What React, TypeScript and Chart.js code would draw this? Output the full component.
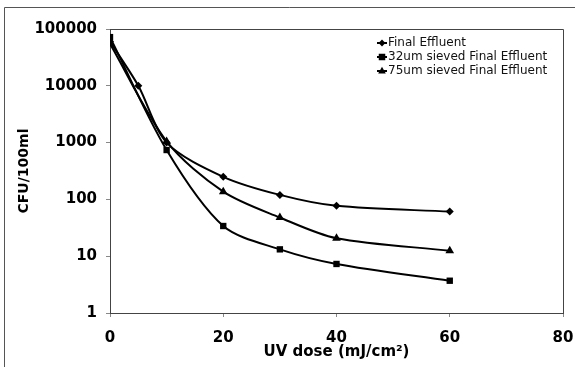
import React, { useEffect, useRef } from "react";
import { Chart, registerables } from "chart.js";

Chart.register(...registerables);

const seriesLabels = ["Final Effluent", "32um sieved Final Effluent", "75um sieved Final Effluent"];
const finalDose = [0, 5, 10, 20, 30, 40, 60];
const finalCFU = [60000, 10000, 1000, 250, 120, 77, 61];
const sieved32Dose = [0, 10, 20, 30, 40, 60];
const sieved32CFU = [72000, 740, 34, 13.2, 7.3, 3.7];
const sieved75Dose = [0, 10, 20, 30, 40, 60];
const sieved75CFU = [55000, 1050, 137, 48, 20.7, 12.5];
const yTicks = [1, 10, 100, 1000, 10000, 100000];
const xTitle = "UV dose (mJ/cm²)";
const yTitle = "CFU/100ml";

const markers = ["rectRot", "rect", "triangle"] as const;
const markerRadius = [4, 4.5, 5];

const FONT = "'DejaVu Sans', Verdana, sans-serif";

const framePlugin = {
  id: "frames",
  afterDraw(chart: any) {
    const { ctx, chartArea } = chart;
    ctx.save();
    ctx.strokeStyle = "#444";
    ctx.lineWidth = 1;
    ctx.beginPath();
    ctx.moveTo(chartArea.left, chartArea.top + 0.5);
    ctx.lineTo(chartArea.right + 0.5, chartArea.top + 0.5);
    ctx.lineTo(chartArea.right + 0.5, chartArea.bottom);
    ctx.stroke();
    ctx.strokeStyle = "#555";
    ctx.beginPath();
    ctx.moveTo(4.5, chart.height);
    ctx.lineTo(4.5, 7.5);
    ctx.lineTo(chart.width, 7.5);
    ctx.stroke();
    ctx.font = "12px " + FONT;
    ctx.textBaseline = "middle";
    const x0 = 377;
    const rows = [43, 57, 71];
    chart.data.datasets.forEach((ds: any, i: number) => {
      const y = rows[i];
      ctx.strokeStyle = "#000";
      ctx.lineWidth = 2;
      ctx.beginPath();
      ctx.moveTo(x0, y);
      ctx.lineTo(x0 + 10, y);
      ctx.stroke();
      ctx.fillStyle = "#000";
      drawMarker(ctx, ds.pointStyle, ds.pointRadius * 0.85, x0 + 5, y);
      ctx.fillStyle = "#111";
      ctx.fillText(ds.label, x0 + 11, y);
    });
    ctx.restore();
  },
};

function drawMarker(ctx: CanvasRenderingContext2D, style: string, r: number, x: number, y: number) {
  ctx.beginPath();
  if (style === "rectRot") {
    ctx.moveTo(x, y - r);
    ctx.lineTo(x + r, y);
    ctx.lineTo(x, y + r);
    ctx.lineTo(x - r, y);
  } else if (style === "rect") {
    const s = r * 0.85;
    ctx.rect(x - s, y - s, 2 * s, 2 * s);
  } else {
    ctx.moveTo(x, y - r);
    ctx.lineTo(x + r * 0.9, y + r * 0.6);
    ctx.lineTo(x - r * 0.9, y + r * 0.6);
  }
  ctx.closePath();
  ctx.fill();
}

function toPts(xs: number[], ys: number[]) {
  return xs.map((x, i) => ({ x, y: ys[i] }));
}

export default function App() {
  const ref = useRef<HTMLCanvasElement>(null);
  useEffect(() => {
    document.body.style.margin = "0";
    const datas = [toPts(finalDose, finalCFU), toPts(sieved32Dose, sieved32CFU), toPts(sieved75Dose, sieved75CFU)];
    const chart = new Chart(ref.current!, {
      type: "line",
      data: {
        datasets: datas.map((d, i) => ({
          label: seriesLabels[i],
          data: d,
          borderColor: "#000",
          backgroundColor: "#000",
          borderWidth: 2,
          pointStyle: markers[i],
          pointRadius: markerRadius[i],
          pointBorderWidth: 0,
          pointBackgroundColor: "#000",
          tension: 0.3,
          fill: false,
        })),
      },
      options: {
        animation: false,
        responsive: false,
        layout: { padding: { left: 0, right: 12, top: 29, bottom: 0 } },
        plugins: { legend: { display: false }, tooltip: { enabled: false } },
        scales: {
          x: {
            type: "linear",
            min: 0,
            max: 80,
            ticks: { stepSize: 20, color: "#000", font: { family: FONT, size: 15, weight: "bold" }, padding: 12, maxRotation: 0 },
            grid: { display: true, drawOnChartArea: false, drawTicks: true, tickLength: 4, color: "#888" },
            border: { display: true, color: "#444", width: 1 },
            title: { display: true, text: xTitle, color: "#000", font: { family: FONT, size: 15, weight: "bold" }, padding: { top: 0, bottom: 6 } },
            afterFit(s: any) { s.height = 54; s.paddingLeft = 0; s.paddingRight = 0; },
          },
          y: {
            type: "logarithmic",
            min: 1,
            max: 100000,
            afterBuildTicks(s: any) { s.ticks = yTicks.map((v) => ({ value: v })); },
            ticks: { color: "#000", font: { family: FONT, size: 15, weight: "bold" }, padding: 9, callback: (v: any) => String(v) },
            grid: { display: true, drawOnChartArea: false, drawTicks: true, tickLength: 4, color: "#888" },
            border: { display: true, color: "#444", width: 1 },
            title: { display: true, text: yTitle, color: "#000", font: { family: FONT, size: 14, weight: "bold" }, padding: { top: 16, bottom: 0 } },
            afterFit(s: any) { s.width = 110; s.paddingTop = 0; s.paddingBottom = 0; },
          },
        },
      },
      plugins: [framePlugin],
    } as any);
    return () => chart.destroy();
  }, []);
  return <canvas ref={ref} width={575} height={367} style={{ display: "block" }} />;
}
